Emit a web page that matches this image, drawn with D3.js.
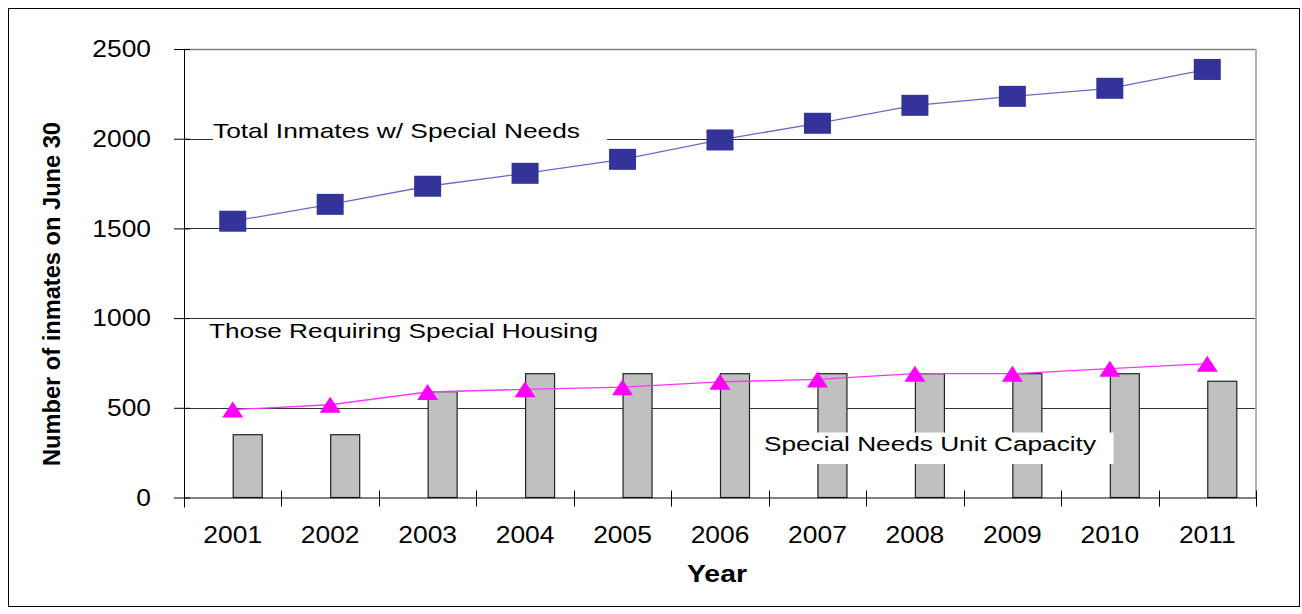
<!DOCTYPE html>
<html><head><meta charset="utf-8">
<script src="https://cdn.jsdelivr.net/npm/d3@7"></script>
<style>
html,body{margin:0;padding:0;background:#fff;}
svg{display:block;font-family:"Liberation Sans",Arial,sans-serif;}
</style></head>
<body>
<svg id="chart" width="1302" height="614"></svg>
<script>
const years = ["2001","2002","2003","2004","2005","2006","2007","2008","2009","2010","2011"];
const totalSpecialNeeds = [1540,1634,1735,1807,1885,1993,2086,2186,2236,2281,2386];
const specialHousing = [490,517,588,603,615,645,658,690,690,718,746];
const unitCapacity = [350,350,590,690,690,690,690,690,690,690,648];
const yTicks = [0,500,1000,1500,2000,2500];

(function(){
const svg = d3.select("#chart");
const pL = 184, pR = 1256, pT = 49, pB = 497.5;

const x = d3.scaleBand().domain(years).range([pL, pR]).padding(0);
const y = d3.scaleLinear().domain([0, 2500]).range([pB, pT]);
const cx = d => x(d) + x.bandwidth()/2;
const crisp = v => Math.round(v) + 0.5;

function stretch(sel, k){
  sel.each(function(){
    const w = this.getComputedTextLength();
    d3.select(this).attr("textLength", w*k).attr("lengthAdjust","spacingAndGlyphs");
  });
}

// outer border
svg.append("rect").attr("x",8.5).attr("y",8.5).attr("width",1291).attr("height",598)
  .attr("fill","none").attr("stroke","#000").attr("stroke-width",1);

// gridlines
svg.append("g").selectAll("line").data(yTicks.filter(t=>t>0)).join("line")
  .attr("x1", pL).attr("x2", pR)
  .attr("y1", d=>crisp(y(d))).attr("y2", d=>crisp(y(d)))
  .attr("stroke", d=> d===2500 ? "#808080" : "#333").attr("stroke-width", d=> d===2500 ? 1.5 : 1);

// right plot border
svg.append("line").attr("x1", pR).attr("x2", pR).attr("y1", pT).attr("y2", pB)
  .attr("stroke","#b3b3b3").attr("stroke-width",2);

// white box behind total label
svg.append("rect").attr("x",213).attr("y",119).attr("width",394).attr("height",26).attr("fill","#fff");

// bars
svg.append("g").selectAll("rect").data(years).join("rect")
  .attr("x", d=>cx(d)+0.5)
  .attr("width", 29)
  .attr("y", (d,i)=>y(unitCapacity[i]))
  .attr("height", (d,i)=>y(0)-y(unitCapacity[i]))
  .attr("fill","#c0c0c0").attr("stroke","#222").attr("stroke-width",1.2);

// special needs unit capacity label box
svg.append("rect").attr("x",757.5).attr("y",432.5).attr("width",356).attr("height",31.5).attr("fill","#fff");

// y axis
const yAxis = d3.axisLeft(y).tickValues(yTicks).tickFormat(d3.format("d")).tickSize(10).tickPadding(23).tickSizeOuter(0);
const gy = svg.append("g").attr("transform",`translate(${pL},0)`).call(yAxis);
gy.select(".domain").attr("stroke","#000").attr("d",`M0.5,${pT}V${pB+10}`);
gy.selectAll(".tick line").attr("x1",6).attr("stroke","#000");
gy.selectAll(".tick text").attr("font-size",24).attr("fill","#000").attr("font-family","Liberation Sans, Arial, sans-serif");
stretch(gy.selectAll(".tick text"), 1.1);

// x axis
const xAxis = d3.axisBottom(x).tickSize(0).tickPadding(28);
const gx = svg.append("g").attr("transform",`translate(0,${pB})`).call(xAxis);
gx.select(".domain").attr("stroke","#000").attr("d",`M${pL},0.5H${pR}`);
gx.selectAll(".tick text").attr("font-size",24).attr("fill","#000").attr("font-family","Liberation Sans, Arial, sans-serif");
stretch(gx.selectAll(".tick text"), 1.1);
// category boundary ticks
const bounds = years.map(d=>x(d)).concat([pR]);
gx.append("g").selectAll("line").data(bounds).join("line")
  .attr("x1", d=>crisp(d)).attr("x2", d=>crisp(d)).attr("y1",-7).attr("y2",9)
  .attr("stroke","#000");

// total line
const lineGen = d3.line().x((d,i)=>cx(years[i])).y(d=>y(d));
svg.append("path").datum(totalSpecialNeeds).attr("d", lineGen)
  .attr("fill","none").attr("stroke","#6a6ac8").attr("stroke-width",1.3);
svg.append("g").selectAll("rect").data(totalSpecialNeeds).join("rect")
  .attr("x",(d,i)=>cx(years[i])-13.5).attr("y",d=>y(d)-10.5)
  .attr("width",27).attr("height",21).attr("fill","#333399");

// housing line
svg.append("path").datum(specialHousing).attr("d", lineGen)
  .attr("fill","none").attr("stroke","#ff33ff").attr("stroke-width",1.3);
svg.append("g").selectAll("path").data(specialHousing).join("path")
  .attr("d",(d,i)=>{const px=cx(years[i]), py=y(d); return `M${px},${py-8}L${px+10.5},${py+8}L${px-10.5},${py+8}Z`;})
  .attr("fill","#ff00ff");

// annotations
const ann = svg.append("g").attr("font-family","Liberation Sans, Arial, sans-serif").attr("fill","#000");
ann.append("text").attr("x",213).attr("y",138.3).attr("font-size",21)
  .attr("textLength",367).attr("lengthAdjust","spacingAndGlyphs").text("Total Inmates w/ Special Needs");
ann.append("text").attr("x",209).attr("y",338.3).attr("font-size",20)
  .attr("textLength",389).attr("lengthAdjust","spacingAndGlyphs").text("Those Requiring Special Housing");
ann.append("text").attr("x",764).attr("y",451).attr("font-size",20)
  .attr("textLength",332).attr("lengthAdjust","spacingAndGlyphs").text("Special Needs Unit Capacity");

// axis titles
svg.append("text").attr("x",717).attr("y",582).attr("text-anchor","middle")
  .attr("font-size",23).attr("font-weight","bold").attr("textLength",60).attr("lengthAdjust","spacingAndGlyphs").text("Year");
svg.append("text").attr("transform","translate(60,294) rotate(-90)").attr("text-anchor","middle")
  .attr("font-size",23).attr("font-weight","bold").attr("textLength",344).attr("lengthAdjust","spacingAndGlyphs")
  .text("Number of inmates on June 30");
})();
</script>
</body></html>
